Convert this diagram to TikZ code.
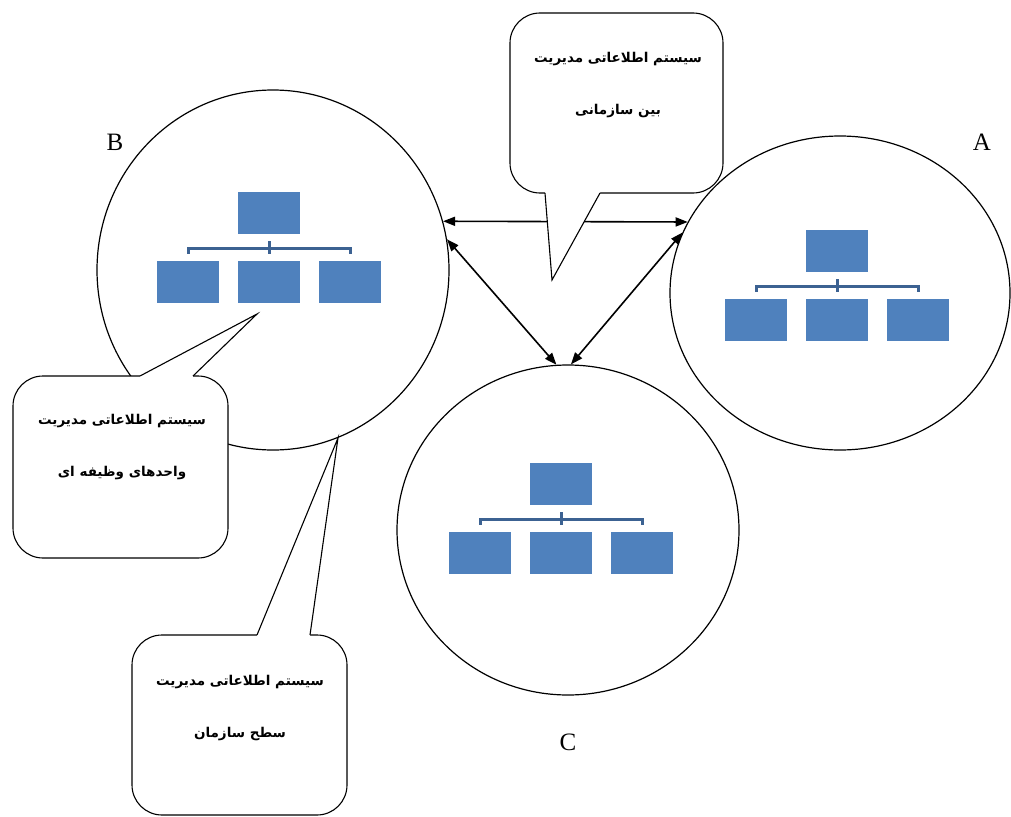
\documentclass[tikz,border=0pt]{standalone}
\usepackage{fontspec}
\setmainfont{Liberation Serif}
\newfontfamily\farsifont[Script=Arabic]{DejaVu Sans}
\TeXXeTstate=1
\usepackage{xcolor}
\definecolor{orgblue}{RGB}{79,129,189}
\definecolor{orgline}{RGB}{60,98,146}
\usepackage{tikz}
\usetikzlibrary{arrows.meta, positioning, shapes.geometric}

\begin{document}
\begin{tikzpicture}[
  x=1pt, y=-1pt,
  ring/.style={draw, ellipse, line width=1.2pt, inner sep=0pt},
  unit/.style={fill=orgblue, minimum width=62pt, minimum height=42pt, inner sep=0pt},
  bracket/.style={draw=orgline, line width=3pt},
  bubble/.style={draw, fill=white, rounded corners=30pt, line width=1.1pt, inner sep=0pt},
  link/.style={{Triangle[length=12pt,width=9pt]}-{Triangle[length=12pt,width=9pt]}, line width=1.6pt},
  letter/.style={font=\fontsize{25}{25}\selectfont},
  note/.style={font=\farsifont\bfseries\fontsize{13.5}{52}\selectfont, align=center},
  orgchart/.pic={
    \node[unit] (-top) at (0,0) {};
    \node[unit] (-mid) at (0,69) {};
    \node[unit] (-left) at (-81,69) {};
    \node[unit] (-right) at (81,69) {};
    \draw[bracket] ([yshift=7pt]-left.north) |- ([yshift=-14pt]-top.south) -| ([yshift=7pt]-right.north);
    \draw[bracket] ([yshift=-7pt]-top.south) -- ([yshift=7pt]-mid.north);
  },
]
\useasboundingbox (0,0) rectangle (1011,816);

% the three organisations
\node[ring, minimum width=352pt, minimum height=360pt] (B) at (273,270) {};
\node[ring, minimum width=340pt, minimum height=314pt] (A) at (840,293) {};
\node[ring, minimum width=342pt, minimum height=330pt] (C) at (568,530) {};

\pic (chartB) at (269,213) {orgchart};
\pic (chartA) at (837,251) {orgchart};
\pic (chartC) at (561,484) {orgchart};

\node[letter] (labB) at (115,142) {B};
\node[letter] (labA) at (982,142) {A};
\node[letter] (labC) at (568,742) {C};

% links between them
\draw[link] (B.16) -- (A.155);
\draw[link] (B.10) -- (C.94);
\draw[link] (A.159) -- (C.89);

% callouts
\node[bubble, minimum width=213pt, minimum height=180pt] (topbox) at (616.5,103) {};
\coordinate (toptip) at (552,280);
\fill[white] (545,191) -- (545,193) -- (toptip) -- (600,193) -- (600,191) -- cycle;
\draw[line width=1.1pt] (545,193) -- (toptip) -- (600,193);
\node[note] (toptext) at (618,85) {\beginR سیستم اطلاعاتی مدیریت\endR\\ \beginR بین سازمانی\endR};

\node[bubble, minimum width=215pt, minimum height=182pt] (leftbox) at (120.5,467) {};
\coordinate (lefttip) at (257,314);
\fill[white] (140,378) -- (140,376) -- (lefttip) -- (193,376) -- (193,378) -- cycle;
\draw[line width=1.1pt] (140,376) -- (lefttip) -- (193,376);
\node[note] (lefttext) at (122,447) {\beginR سیستم اطلاعاتی مدیریت\endR\\ \beginR واحدهای وظیفه ای\endR};

\node[bubble, minimum width=215pt, minimum height=180pt] (lowbox) at (239.5,725) {};
\coordinate (lowtip) at (338,438);
\fill[white] (257,637) -- (257,635) -- (lowtip) -- (310,635) -- (310,637) -- cycle;
\draw[line width=1.1pt] (257,635) -- (lowtip) -- (310,635);
\node[note] (lowtext) at (240,708) {\beginR سیستم اطلاعاتی مدیریت\endR\\ \beginR سطح سازمان\endR};
\end{tikzpicture}
\end{document}
